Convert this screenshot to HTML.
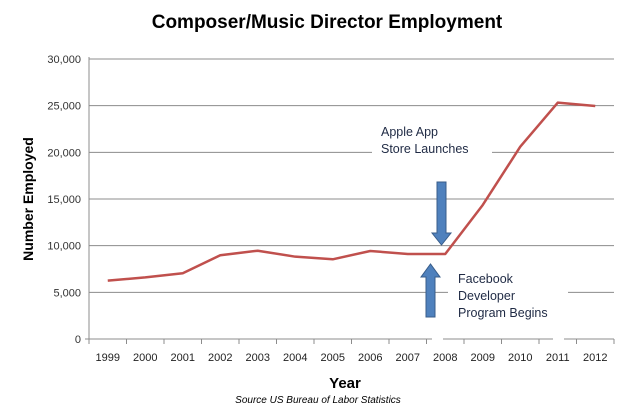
<!DOCTYPE html>
<html><head><meta charset="utf-8"><style>
body{margin:0;background:#fff;}
svg{display:block;font-family:"Liberation Sans",sans-serif;}
</style></head><body>
<svg width="620" height="412" viewBox="0 0 620 412">
<text x="327" y="28" text-anchor="middle" font-size="19" font-weight="bold">Composer/Music Director Employment</text>
<text transform="translate(33,199) rotate(-90)" text-anchor="middle" font-size="14" font-weight="bold">Number Employed</text>
<text x="345" y="388" text-anchor="middle" font-size="15" font-weight="bold">Year</text>
<text x="318" y="403" text-anchor="middle" font-size="10" font-style="italic">Source US Bureau of Labor Statistics</text>
<g id="grid"></g><g id="axes"></g><g id="series"></g><g id="notes"></g>
</svg>
<script>
const categories=["1999","2000","2001","2002","2003","2004","2005","2006","2007","2008","2009","2010","2011","2012"];
const employed=[6250,6600,7050,8970,9460,8820,8540,9430,9110,9110,14360,20600,25320,24960];
const yTicks=[0,5000,10000,15000,20000,25000,30000];
const yTickLabels=["0","5,000","10,000","15,000","20,000","25,000","30,000"];
const NS="http://www.w3.org/2000/svg";
const L=89,R=614,T=59,B=339,YMAX=30000;
const step=(R-L)/categories.length;
function x(i){return L+step*(i+0.5);}
function y(v){return B-(v/YMAX)*(B-T);}
function mk(tag,attrs,parent){const e=document.createElementNS(NS,tag);for(const k in attrs)e.setAttribute(k,attrs[k]);document.getElementById(parent).appendChild(e);return e;}
yTicks.forEach((v,i)=>{
  if(v>0){const g=mk('line',{x1:L,x2:R,y1:y(v),y2:y(v),stroke:'#8c8c8c','stroke-width':1},'grid');
  
  }
  const t=mk('text',{x:L-8,y:y(v)+4,'text-anchor':'end','font-size':'11',fill:'#333'},'axes');
  t.textContent=yTickLabels[i];
  
  
});
const ya=mk('line',{x1:L,x2:L,y1:T-2,y2:B,stroke:'#8c8c8c'},'axes');


const xa=mk('line',{x1:L-4,x2:R,y1:B,y2:B,stroke:'#8c8c8c'},'axes');


for(let i=0;i<=categories.length;i++){
  const tk=mk('line',{x1:L+step*i,x2:L+step*i,y1:B,y2:B+5,stroke:'#8c8c8c'},'axes');
  
  
}
categories.forEach((c,i)=>{
  const t=mk('text',{x:x(i),y:B+22,'text-anchor':'middle','font-size':'11',fill:'#222'},'axes');
  t.textContent=c;
  
  
});
const line=mk('polyline',{points:employed.map((v,i)=>x(i)+','+y(v)).join(' '),fill:'none',stroke:'#c0504d','stroke-width':2.5,'stroke-linejoin':'round'},'series');


// annotation white boxes (cover gridlines)
[[372,120,120,42],[448,266,120,56],[432,330,11,14],[553,330,11,14]].forEach(r=>{
  const b=mk('rect',{x:r[0],y:r[1],width:r[2],height:r[3],fill:'#fff'},'notes');
  
  
});
function txt(s,xx,yy,name){const t=mk('text',{x:xx,y:yy,'font-size':'12.5',fill:'#1f2a44'},'notes');t.textContent=s;}
txt('Apple App',381,136,'apple-annotation');
txt('Store Launches',381,153,'apple-annotation-line2');
txt('Facebook',458,283,'facebook-annotation');
txt('Developer',458,300,'facebook-annotation-line2');
txt('Program Begins',458,317,'facebook-annotation-line3');
const da=mk('polygon',{points:'437,182 446,182 446,233 451,233 441.5,245 432,233 437,233',fill:'#4f81bd',stroke:'#385d8a'},'notes');


const ua=mk('polygon',{points:'426,317 435,317 435,277 440,277 430.5,264 421,277 426,277',fill:'#4f81bd',stroke:'#385d8a'},'notes');


</script>
</body></html>
